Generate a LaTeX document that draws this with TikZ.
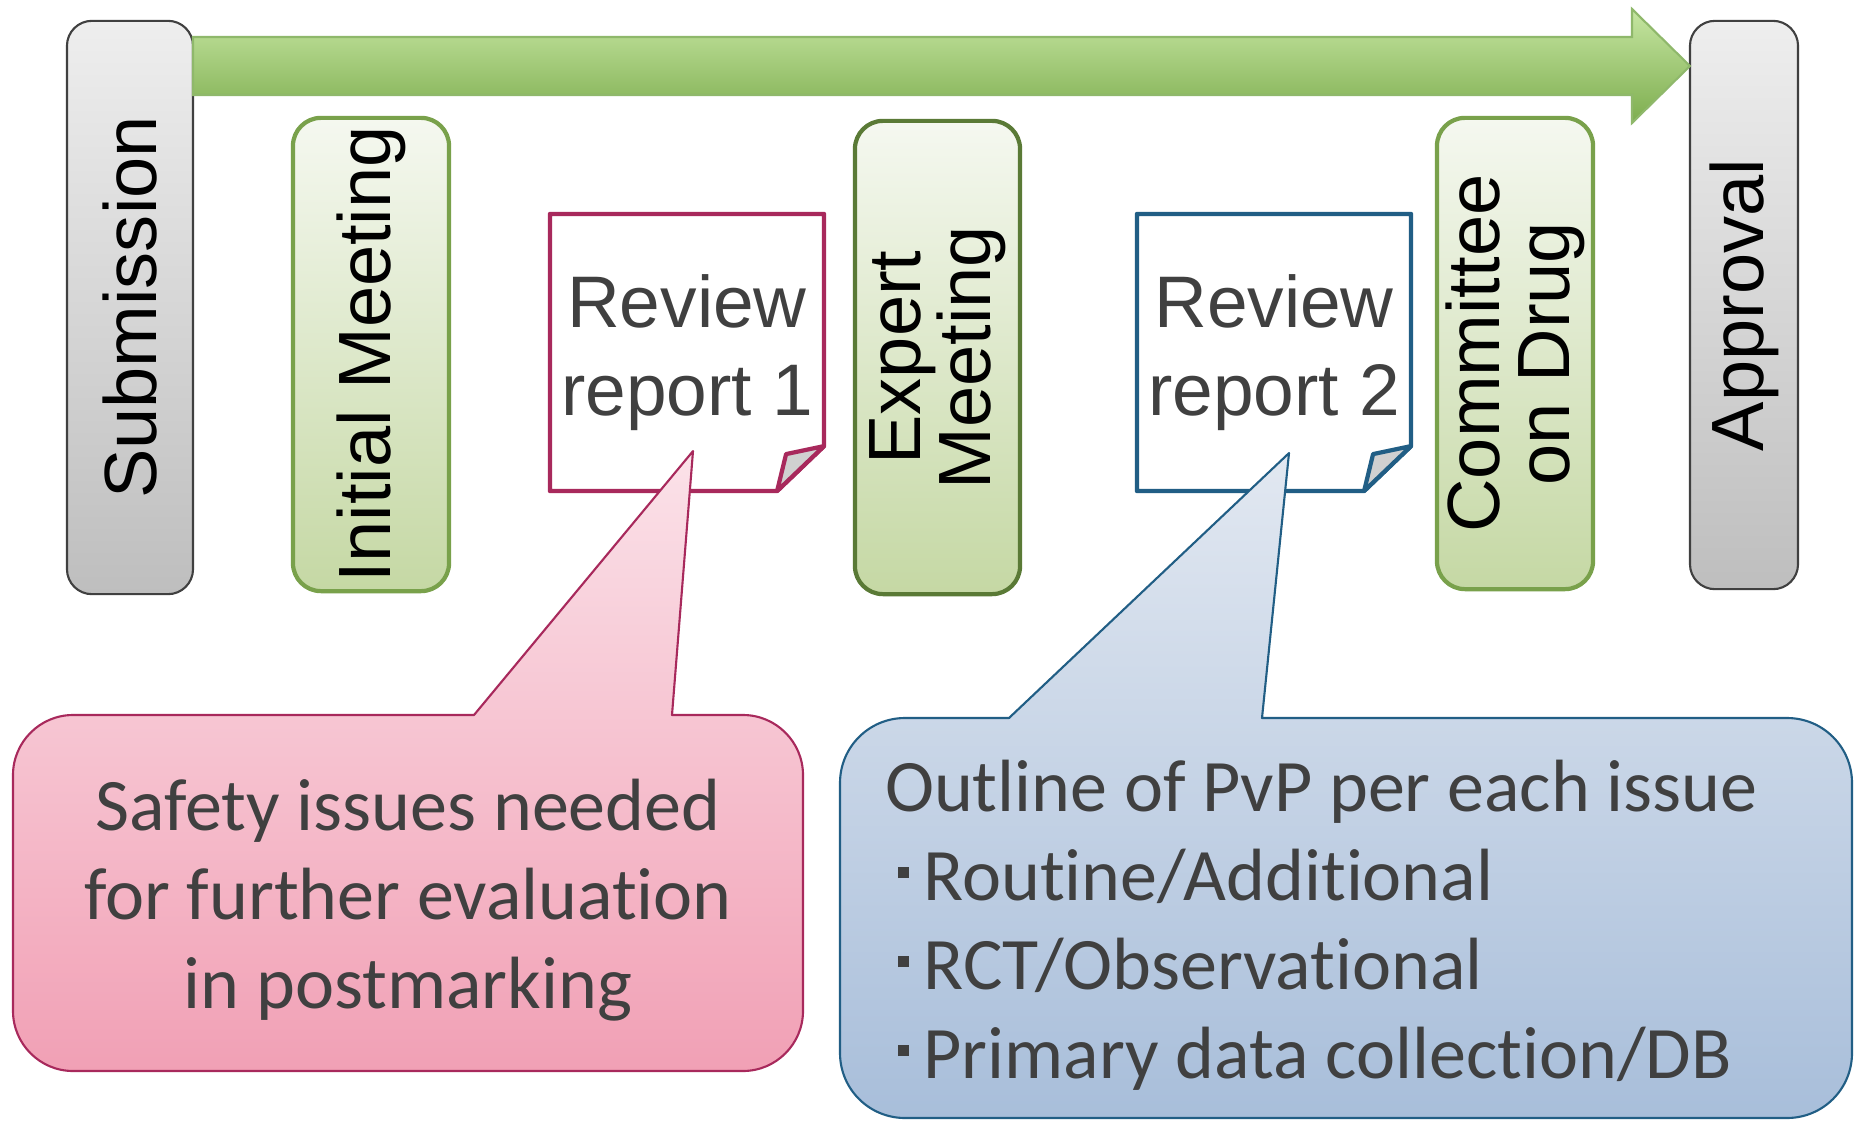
\documentclass[tikz,border=0pt]{standalone}
\usepackage{fontspec}
\setmainfont{Liberation Sans}
\newfontfamily\calloutfont[Ligatures=NoCommon]{Carlito}
\usepackage{tikz}
\usetikzlibrary{calc}

\definecolor{stepgreen}{HTML}{79A14B}
\definecolor{expertgreen}{HTML}{5A7A36}
\definecolor{greentop}{HTML}{F5F8F0}
\definecolor{greenbot}{HTML}{C5D8A4}
\definecolor{graytop}{HTML}{EEEEEE}
\definecolor{graybot}{HTML}{BEBEBE}
\definecolor{grayline}{HTML}{404040}
\definecolor{arrowtop}{HTML}{C6E6A2}
\definecolor{arrowbot}{HTML}{7DAD4E}
\definecolor{arrowline}{HTML}{8FB86B}
\definecolor{crimson}{HTML}{A8295C}
\definecolor{navy}{HTML}{215E85}
\definecolor{pinktop}{HTML}{FBE2E9}
\definecolor{pinkbot}{HTML}{F1A0B5}
\definecolor{bluetop}{HTML}{E2E8F1}
\definecolor{bluebot}{HTML}{A8BEDA}
\definecolor{textgray}{HTML}{404040}
\definecolor{foldgray}{HTML}{D0D0D0}

\newcommand{\pvpbullet}{\hspace*{0.17em}\rule[0.3em]{0.15em}{0.15em}\hspace{0.2em}}

\begin{document}
\begin{tikzpicture}[x=0.01cm, y=-0.01cm,
  every node/.style={align=center, inner sep=0pt, outer sep=0pt},
  milestone/.style={rounded corners=0.25cm, draw=grayline, line width=0.6pt, top color=graytop, bottom color=graybot, font=\fontsize{0.74cm}{0.7cm}\selectfont},
  meeting/.style={rounded corners=0.28cm, draw=stepgreen, line width=1.2pt, top color=greentop, bottom color=greenbot, minimum width=1.56cm, minimum height=4.73cm, font=\fontsize{0.74cm}{0.7cm}\selectfont},
  report/.style={minimum width=2.74cm, minimum height=2.77cm, text=textgray, font=\fontsize{0.73cm}{0.88cm}\selectfont},
  sheet/.style={line width=1.2pt, line join=round},
  fold/.style={line width=1.2pt, fill=foldgray, line join=round},
  timeline/.style={draw=arrowline, line width=0.6pt, top color=arrowtop, bottom color=arrowbot},
  bubble/.style={line width=0.6pt, line join=round},
  bubbletext/.style={text=textgray, font=\calloutfont\fontsize{0.74cm}{0.89cm}\selectfont}]

  \fill[white] (0,0) rectangle (1854,1121);

  \node (sub) [milestone, minimum width=1.26cm, minimum height=5.73cm] at (130,307.5) {\rotatebox{90}{Submission}};
  \node (init) [meeting] at (371,354.5) {\rotatebox{90}{Initial Meeting}};
  \node (rep1) [report] at (687,352.5) {Review\\report 1};
  \node (expert) [meeting, draw=expertgreen, minimum width=1.65cm] at (937.5,357.5) {\rotatebox{90}{\parbox{4cm}{\centering Expert\\Meeting}}};
  \node (rep2) [report] at (1274,352.5) {Review\\report 2};
  \node (committee) [meeting, minimum height=4.71cm] at (1515,353.5) {\rotatebox{90}{\parbox{4cm}{\centering Committee\\on Drug}}};
  \node (app) [milestone, minimum width=1.08cm, minimum height=5.68cm] at (1744,305) {\rotatebox{90}{Approval}};

  \draw[timeline] (sub.east |- 0,37) -- (1632,37) -- (1632,9) -- (app.west |- 0,66) -- (1632,123) -- (1632,95) -- (sub.east |- 0,95) -- cycle;

  \draw[sheet, draw=crimson] (rep1.north west) -- (rep1.north east) -- ($(rep1.south east)+(0,-45)$) -- ($(rep1.south east)+(-47,0)$) -- (rep1.south west) -- cycle;
  \draw[fold, draw=crimson] ($(rep1.south east)+(0,-45)$) -- ($(rep1.south east)+(-38,-37)$) -- ($(rep1.south east)+(-47,0)$) -- cycle;
  \draw[sheet, draw=navy] (rep2.north west) -- (rep2.north east) -- ($(rep2.south east)+(0,-45)$) -- ($(rep2.south east)+(-47,0)$) -- (rep2.south west) -- cycle;
  \draw[fold, draw=navy] ($(rep2.south east)+(0,-45)$) -- ($(rep2.south east)+(-38,-37)$) -- ($(rep2.south east)+(-47,0)$) -- cycle;

  \draw[bubble, draw=crimson, top color=pinktop, bottom color=pinkbot]
    (474,715) -- ($(rep1.south)+(6,-40)$) -- (672,715) -- (743,715)
    .. controls (776,715) and (803,742) .. (803,775) -- (803,1011)
    .. controls (803,1044) and (776,1071) .. (743,1071) -- (73,1071)
    .. controls (40,1071) and (13,1044) .. (13,1011) -- (13,775)
    .. controls (13,742) and (40,715) .. (73,715) -- cycle;
  \draw[bubble, draw=navy, top color=bluetop, bottom color=bluebot]
    (1009,718) -- ($(rep2.south)+(15,-38)$) -- (1262,718) -- (1787,718)
    .. controls (1823,718) and (1852,747) .. (1852,783) -- (1852,1053)
    .. controls (1852,1089) and (1823,1118) .. (1787,1118) -- (905,1118)
    .. controls (869,1118) and (840,1089) .. (840,1053) -- (840,783)
    .. controls (840,747) and (869,718) .. (905,718) -- cycle;

  \node (safety) [bubbletext] at (408,900) {Safety issues needed\\for further evaluation\\in postmarking};
  \node (pvp) [bubbletext, align=left, anchor=west] at (885,925) {Outline of PvP per each issue\\\pvpbullet Routine/Additional\\\pvpbullet RCT/Observational\\\pvpbullet Primary data collection/DB};
\end{tikzpicture}
\end{document}
